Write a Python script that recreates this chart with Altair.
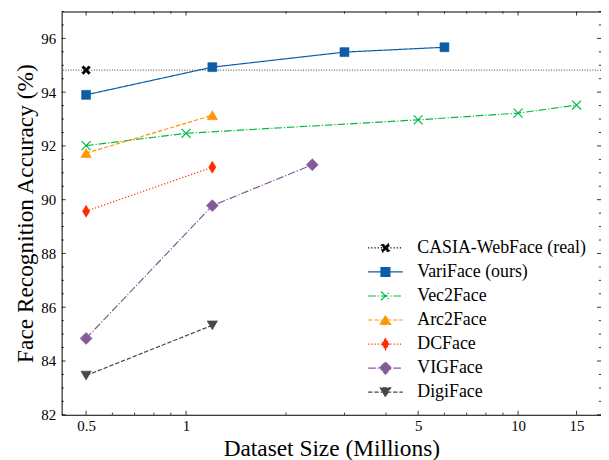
import altair as alt
import pandas as pd

# ---------------- data ----------------
series = ["CASIA-WebFace (real)", "VariFace (ours)", "Vec2Face", "Arc2Face",
          "DCFace", "VIGFace", "DigiFace"]
casia_x = [0.5]
casia_y = [94.82]
variface_x = [0.5, 1.2, 3, 6]
variface_y = [93.9, 94.93, 95.49, 95.67]
vec2face_x = [0.5, 1, 5, 10, 15]
vec2face_y = [92.01, 92.47, 92.97, 93.22, 93.52]
arc2face_x = [0.5, 1.2]
arc2face_y = [91.73, 93.14]
dcface_x = [0.5, 1.2]
dcface_y = [89.57, 91.21]
vigface_x = [0.5, 1.2, 2.4]
vigface_y = [84.84, 89.78, 91.30]
digiface_x = [0.5, 1.2]
digiface_y = [83.46, 85.33]

x_major = [0.5, 1, 5, 10, 15]
x_minor = [0.6, 0.7, 0.8, 0.9, 2, 3, 4, 6, 7, 8, 9]
y_major = [82, 84, 86, 88, 90, 92, 94, 96]
y_minor = [82.5, 83, 83.5, 84.5, 85, 85.5, 86.5, 87, 87.5, 88.5, 89, 89.5,
           90.5, 91, 91.5, 92.5, 93, 93.5, 94.5, 95, 95.5, 96.5, 97]

# ---------------- style ----------------
FONT = "Liberation Serif"
W, H = 543, 406
colors = ["#000000", "#0C5DA5", "#00B945", "#FF9500", "#FF2C00", "#845B97", "#474747"]
LW = 1.2
dashes = [[1.2, 2.0], [1, 0], [7.7, 1.9, 1.2, 1.9], [4.4, 1.9], [1.2, 2.0],
          [7.7, 1.9, 1.2, 1.9], [4.4, 1.9]]
R0 = 7.0
SIZE = (2 * R0) ** 2


def poly(pts, close=True):
    s = "M" + "L".join(f"{x / R0:.3f},{y / R0:.3f}" for x, y in pts)
    return s + ("Z" if close else "")


xthick = [(-1, -0.6), (-0.6, -1), (0, -0.4), (0.6, -1), (1, -0.6), (0.4, 0),
          (1, 0.6), (0.6, 1), (0, 0.4), (-0.6, 1), (-1, 0.6), (-0.4, 0)]
m_X = poly([(4.3 * a, 4.3 * b) for a, b in xthick])
m_sq = poly([(-4.5, -4.5), (4.5, -4.5), (4.5, 4.5), (-4.5, 4.5)])
m_x = (poly([(-4.5, -4.5), (4.5, 4.5)], False) + poly([(-4.5, 4.5), (4.5, -4.5)], False))
m_tu = poly([(0, -4.6), (-5.2, 4.4), (5.2, 4.4)])
m_td = poly([(0, 4.6), (-5.2, -4.4), (5.2, -4.4)])
m_thd = poly([(0, -6), (3.6, 0), (0, 6), (-3.6, 0)])
m_d = poly([(0, -6), (6, 0), (0, 6), (-6, 0)])
markers = [m_X, m_sq, m_x, m_tu, m_thd, m_d, m_td]
filled = [True, True, False, True, True, True, True]
legend_line = "M-2.500,0H2.500"
legend_paths = [legend_line + m for m in markers]

xs = [casia_x, variface_x, vec2face_x, arc2face_x, dcface_x, vigface_x, digiface_x]
ys = [casia_y, variface_y, vec2face_y, arc2face_y, dcface_y, vigface_y, digiface_y]

xscale = alt.Scale(type="log", domain=[0.422, 17.77])
yscale = alt.Scale(domain=[82, 97])


def X(field):
    return alt.X(f"{field}:Q", scale=xscale,
                 axis=alt.Axis(values=x_major, format="~g", title="Dataset Size (Millions)",
                               ticks=False, domain=False, grid=False, labelPadding=4,
                               titlePadding=3))


def Y(field):
    return alt.Y(f"{field}:Q", scale=yscale,
                 axis=alt.Axis(values=y_major, format="d",
                               title="Face Recognition Accuracy (%)",
                               ticks=False, domain=False, grid=False, labelPadding=6,
                               titlePadding=3))


layers = []

# inward ticks on all four sides
def tick_layer_x(vals, length, top):
    df = pd.DataFrame({"v": vals})
    y0, y1 = (0, length) if top else (H, H - length)
    return alt.Chart(df).mark_rule(color="#000", strokeWidth=0.8).encode(
        x=X("v"), y=alt.value(y0), y2=alt.value(y1))


def tick_layer_y(vals, length, right):
    df = pd.DataFrame({"v": vals})
    x0, x1 = (W, W - length) if right else (0, length)
    return alt.Chart(df).mark_rule(color="#000", strokeWidth=0.8).encode(
        y=Y("v"), x=alt.value(x0), x2=alt.value(x1))


for top in (False, True):
    layers.append(tick_layer_x(x_major, 4, top))
    layers.append(tick_layer_x(x_minor, 2.2, top))
for right in (False, True):
    layers.append(tick_layer_y(y_major, 4, right))
    layers.append(tick_layer_y(y_minor, 2.2, right))

# CASIA reference horizontal line
casia_df = pd.DataFrame({"y": casia_y})
layers.append(alt.Chart(casia_df).mark_rule(color="#000", strokeWidth=0.9,
                                            strokeDash=[1, 1.6], opacity=0.85)
              .encode(y=Y("y")))

# series lines
for i in range(1, len(series)):
    df = pd.DataFrame({"x": xs[i], "y": ys[i]})
    layers.append(alt.Chart(df).mark_line(color=colors[i], strokeWidth=LW,
                                          strokeDash=dashes[i])
                  .encode(x=X("x"), y=Y("y")))

# series markers
for i in range(len(series)):
    df = pd.DataFrame({"x": xs[i], "y": ys[i]})
    if filled[i]:
        mk = alt.Chart(df).mark_point(shape=markers[i], size=SIZE, filled=True,
                                      fill=colors[i], stroke=colors[i],
                                      strokeWidth=0.6, opacity=1)
    else:
        mk = alt.Chart(df).mark_point(shape=markers[i], size=SIZE, filled=False,
                                      stroke=colors[i], strokeWidth=LW, opacity=1)
    layers.append(mk.encode(x=X("x"), y=Y("y")))

# legend (built from the series list, no marks drawn)
leg = alt.Legend(title=None, orient="none", legendX=317, legendY=229,
                 labelFont=FONT, labelFontSize=18, labelColor="#000", labelLimit=0,
                 labelOffset=23, rowPadding=6.2, symbolSize=SIZE,
                 symbolStrokeWidth=LW, padding=0)
legend_df = pd.DataFrame({"series": series})
layers.append(
    alt.Chart(legend_df).transform_filter("false")
    .mark_point(filled=True, size=SIZE, opacity=1, strokeWidth=LW)
    .encode(
        shape=alt.Shape("series:N", scale=alt.Scale(domain=series, range=legend_paths), legend=leg),
        fill=alt.Fill("series:N", scale=alt.Scale(domain=series, range=colors), legend=leg),
        stroke=alt.Stroke("series:N", scale=alt.Scale(domain=series, range=colors), legend=leg),
        strokeDash=alt.StrokeDash("series:N", scale=alt.Scale(domain=series, range=dashes), legend=leg),
    )
)

chart = alt.layer(*layers).properties(
    width=W, height=H,
    autosize=alt.AutoSizeParams(type="none"),
    padding={"left": 54, "top": 2, "right": 0, "bottom": 44},
).configure_axis(
    labelFont=FONT, titleFont=FONT, labelColor="#000", titleColor="#000",
    labelFontSize=15, titleFontSize=23.5, titleFontWeight="normal",
).configure_view(stroke="#000", strokeWidth=1)

chart.save("out.html", embed_options={"renderer": "svg", "actions": False})
